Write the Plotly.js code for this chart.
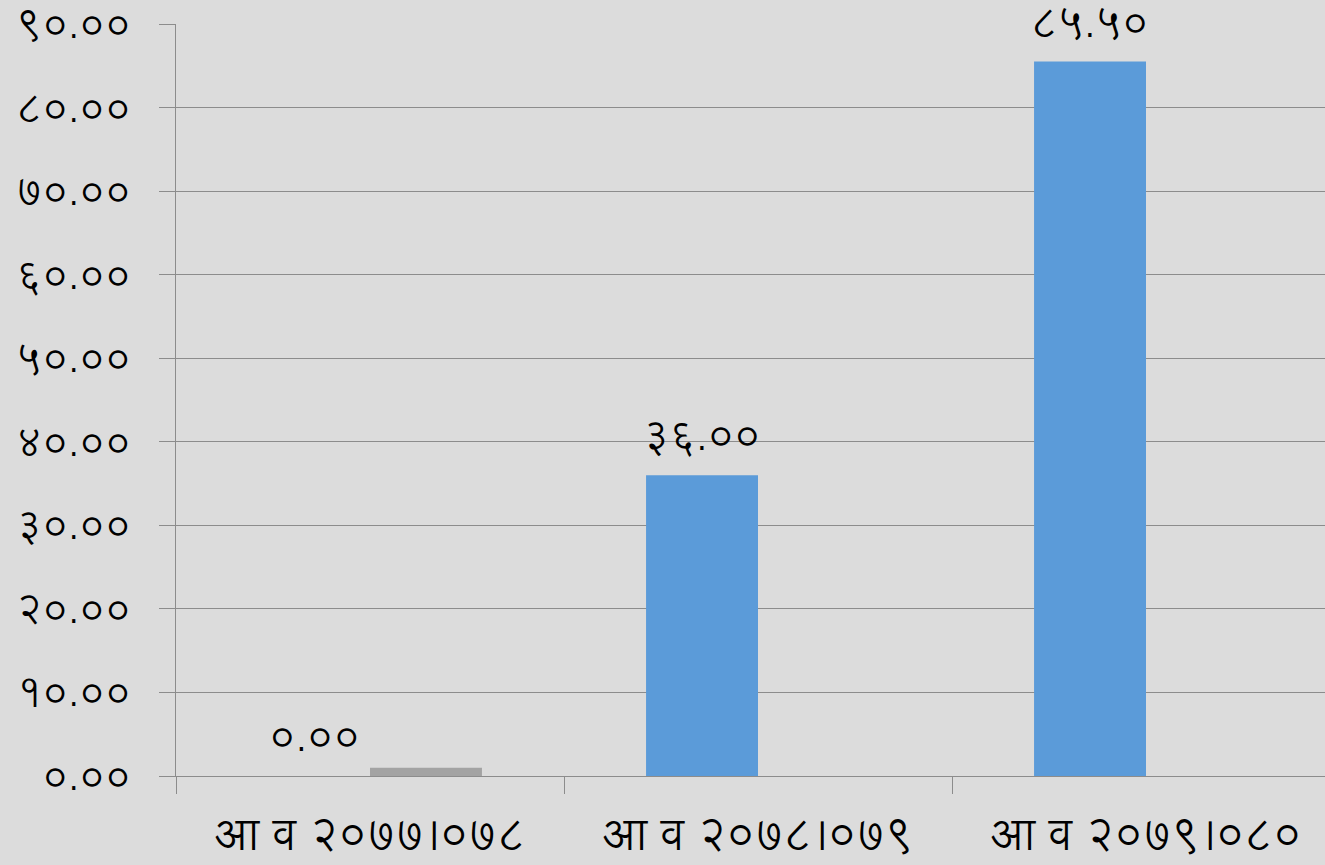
<!DOCTYPE html>
<html>
<head>
<meta charset="utf-8">
<script src="https://cdn.plot.ly/plotly-3.0.1.min.js"></script>
<style>
html,body{margin:0;padding:0;overflow:hidden;background:#dcdcdc;}
#chart{width:1340px;height:865px;}
</style>
</head>
<body>
<div id="chart"></div>
<script>
const categories = ["आ व २०७७।०७८", "आ व २०७८।०७९", "आ व २०७९।०८०"];
const blueValues = [0, 36, 85.5];
const blueLabels = ["०.००", "३६.००", "८५.५०"];
const grayValues = [1, null, null];
const yTickVals = [0, 10, 20, 30, 40, 50, 60, 70, 80, 90];
const yTickText = ["०.००", "१०.००", "२०.००", "३०.००", "४०.००", "५०.००", "६०.००", "७०.००", "८०.००", "९०.००"];

const FONT = "'Lohit Devanagari', 'Noto Sans Devanagari', sans-serif";

const traces = [
  {type: "bar", x: categories, y: blueValues, name: "blue",
   marker: {color: "#5b9bd9"}, hoverinfo: "skip"},
  {type: "bar", x: categories, y: grayValues, name: "gray",
   marker: {color: "#a3a3a3"}, hoverinfo: "skip"}
];

const annotations = categories.map((c, i) => ({
  x: c, y: blueValues[i], xref: "x", yref: "y",
  text: blueLabels[i], showarrow: false,
  xanchor: "center", yanchor: "bottom",
  xshift: -56, yshift: 2,
  font: {family: FONT, size: 41, color: "#000"}
}));

const layout = {
  width: 1340, height: 865,
  margin: {l: 176, r: 0, t: 24, b: 89},
  paper_bgcolor: "#dcdcdc", plot_bgcolor: "#dcdcdc",
  showlegend: false,
  barmode: "group", bargap: 0.423, bargroupgap: 0,
  font: {family: FONT, color: "#000"},
  xaxis: {
    type: "category", showgrid: false, zeroline: false,
    showline: true, linecolor: "#8c8c8c", linewidth: 1,
    ticks: "outside", tickson: "boundaries", ticklen: 17, tickcolor: "#8c8c8c", tickwidth: 1,
    tickfont: {family: FONT, size: 44, color: "#000"}, ticklabelstandoff: 20,
    ticklabeloverflow: "allow"
  },
  yaxis: {
    range: [0, 90], tickvals: yTickVals, ticktext: yTickText,
    showgrid: true, gridcolor: "#8c8c8c", gridwidth: 1, zeroline: false,
    showline: true, linecolor: "#8c8c8c", linewidth: 1,
    ticks: "outside", ticklen: 16, tickcolor: "#8c8c8c", tickwidth: 1,
    tickfont: {family: FONT, size: 40, color: "#000"}, ticklabelstandoff: 20,
    ticklabeloverflow: "allow"
  },
  annotations: annotations
};

Plotly.newPlot("chart", traces, layout, {displayModeBar: false, staticPlot: true});
</script>
</body>
</html>
